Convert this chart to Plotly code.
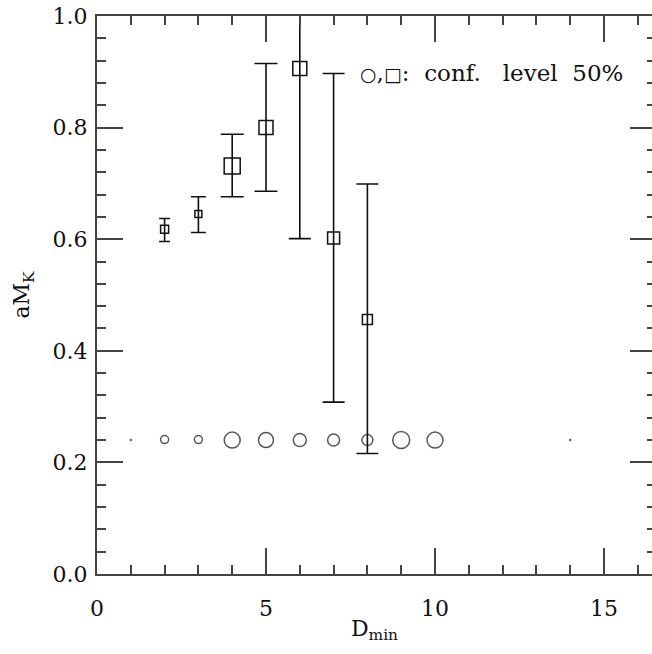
import plotly.graph_objects as go

# ---- data ----
sq_x = [2, 3, 4, 5, 6, 7, 8]
sq_y = [0.618, 0.645, 0.731, 0.800, 0.906, 0.602, 0.456]
sq_hi = [0.637, 0.676, 0.788, 0.915, 1.210, 0.897, 0.699]
sq_lo = [0.596, 0.612, 0.676, 0.686, 0.601, 0.308, 0.216]
sq_size = [8, 7, 16, 14, 14, 12, 10]

ci_x = [1, 2, 3, 4, 5, 6, 7, 8, 9, 10, 14]
ci_y = [0.240, 0.241, 0.241, 0.240, 0.240, 0.240, 0.240, 0.240, 0.240, 0.240, 0.240]
ci_size = [1, 8, 8, 16, 15, 13, 12, 11, 17, 16, 1]

x_ticks = [0, 5, 10, 15]
y_ticks = [0.0, 0.2, 0.4, 0.6, 0.8, 1.0]
NB = "\u00a0"
note = ('<span style="font-size:19px">\u25cb</span>,'
        '<span style="font-size:19px">\u25a1</span>:' + NB * 2 +
        "conf." + NB * 3 + "level" + NB * 2 + "50%")

# ---- styles ----
cap_half = [5.5, 7.5, 11.5, 11.5, 11, 11, 11]
INK = "#111111"
AX = "#444444"
FONT = "DejaVu Serif"

fig = go.Figure()

# error bars (one trace per point so cap widths can differ)
for i in range(len(sq_x)):
    fig.add_trace(go.Scatter(
        x=[sq_x[i]], y=[sq_y[i]], mode="markers",
        marker=dict(symbol="square-open", size=sq_size[i], color=INK,
                    line=dict(width=1.5, color=INK)),
        error_y=dict(type="data", symmetric=False,
                     array=[sq_hi[i] - sq_y[i]],
                     arrayminus=[sq_y[i] - sq_lo[i]],
                     color=INK, thickness=1.6, width=cap_half[i]),
        showlegend=False, hoverinfo="skip"))

fig.add_trace(go.Scatter(
    x=ci_x, y=ci_y, mode="markers",
    marker=dict(symbol="circle-open", size=ci_size, color=INK,
                line=dict(width=1.5, color=INK)),
    showlegend=False, hoverinfo="skip"))

# invisible trace carrying the right-hand tick axis
fig.add_trace(go.Scatter(x=[None], y=[None], yaxis="y2", showlegend=False,
                         hoverinfo="skip"))

fig.add_annotation(x=7.72, y=0.898, xref="x", yref="y", text=note,
                   showarrow=False, xanchor="left", yanchor="middle",
                   font=dict(family=FONT, size=23, color=INK))

fig.update_layout(
    width=652, height=654,
    margin=dict(l=97, r=0, t=16, b=80),
    paper_bgcolor="white", plot_bgcolor="white",
    font=dict(family=FONT, size=22, color=INK),
    xaxis=dict(range=[0, 16.42], showgrid=False, zeroline=False,
               showline=True, linecolor=AX, linewidth=2, mirror="ticks",
               ticks="inside", ticklen=26, tickwidth=2, tickcolor=AX,
               tickvals=x_ticks, ticktext=[str(v) for v in x_ticks],
               ticklabelstandoff=14,
               minor=dict(dtick=1, ticks="inside", ticklen=9, tickwidth=1.5,
                          tickcolor=AX, showgrid=False),
               tickfont=dict(family=FONT, size=22, color=INK),
               title=dict(text="D<sub>min</sub>", standoff=0,
                          font=dict(family=FONT, size=22, color=INK))),
    yaxis=dict(range=[0, 1], showgrid=False, zeroline=False,
               showline=True, linecolor=AX, linewidth=2, mirror=False,
               ticks="inside", ticklen=26, tickwidth=2, tickcolor=AX,
               tickvals=y_ticks, ticktext=["%.1f" % v for v in y_ticks],
               ticklabelstandoff=3,
               minor=dict(dtick=0.04, ticks="inside", ticklen=9, tickwidth=1.5,
                          tickcolor=AX, showgrid=False),
               tickfont=dict(family=FONT, size=22, color=INK),
               title=dict(text="aM<sub>K</sub>", standoff=17,
                          font=dict(family=FONT, size=22, color=INK))),
    yaxis2=dict(range=[0, 1], overlaying="y", side="right", anchor="x",
                showgrid=False, zeroline=False, showline=False,
                ticks="inside", ticklen=22, tickwidth=2, tickcolor=AX,
                tickvals=y_ticks, showticklabels=False,
                minor=dict(dtick=0.04, ticks="inside", ticklen=5, tickwidth=1.5,
                           tickcolor=AX, showgrid=False)),
)

fig.write_html("out.html")
